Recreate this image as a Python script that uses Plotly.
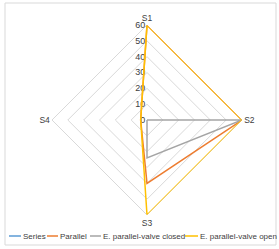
import plotly.graph_objects as go

categories = ["S1", "S2", "S3", "S4"]
series_names = ["Series", "Parallel", "E. parallel-valve closed", "E. parallel-valve open"]
series_values = [
    [0, 0, 0, 0],
    [60, 60, 40, 4],
    [0, 60, 24, 0],
    [60, 60, 60, 4],
]
colors = ["#5B9BD5", "#ED7D31", "#A5A5A5", "#FFC000"]
radial_ticks = [0, 10, 20, 30, 40, 50, 60]

W, H = 279, 249
fig = go.Figure()
for name, vals, col in zip(series_names, series_values, colors):
    fig.add_trace(go.Scatterpolar(
        r=vals + vals[:1], theta=categories + categories[:1], mode="lines",
        name=name, line=dict(color=col, width=1.5), showlegend=False))

cx, cy, rad = 147, 120, 95
fig.update_layout(
    width=W, height=H, margin=dict(l=0, r=0, t=0, b=0),
    paper_bgcolor="white", plot_bgcolor="white",
    font=dict(family="Liberation Sans", color="#404040", size=8),
    polar=dict(
        domain=dict(x=[(cx - rad) / W, (cx + rad) / W], y=[(H - cy - rad) / H, (H - cy + rad) / H]),
        gridshape="linear", bgcolor="white",
        angularaxis=dict(rotation=90, direction="clockwise", showgrid=False,
                         showline=True, linecolor="#D9D9D9", linewidth=1, layer="below traces",
                         ticks="", tickfont=dict(size=8.5, color="#404040")),
        radialaxis=dict(range=[0, 60], tickvals=radial_ticks, showline=False, ticks="",
                        gridcolor="#D9D9D9", gridwidth=1, angle=90, tickangle=90,
                        layer="below traces",
                        side="counterclockwise", tickfont=dict(size=9, color="#404040")),
    ),
)

# chart border
fig.add_shape(type="rect", xref="paper", yref="paper", x0=5 / W, x1=276 / W,
              y0=1 - 245 / H, y1=1 - 3 / H, line=dict(color="#D9D9D9", width=1))

# legend drawn manually
leg_y = 1 - 236 / H
leg_items = [(9, 21), (47, 58), (90, 101), (185, 198)]
for (x0, x1), name, col in zip(leg_items, series_names, colors):
    fig.add_shape(type="line", xref="paper", yref="paper", x0=x0 / W, x1=x1 / W,
                  y0=leg_y, y1=leg_y, line=dict(color=col, width=1.5))
    fig.add_annotation(x=(x1 + 1) / W, y=leg_y, xref="paper", yref="paper", text=name,
                       showarrow=False, xanchor="left", yanchor="middle",
                       font=dict(size=8, color="#404040"), borderpad=0)

fig.write_html("out.html", config={"displayModeBar": False},
               post_script="document.body.style.margin='0';document.body.style.overflow='hidden';")
